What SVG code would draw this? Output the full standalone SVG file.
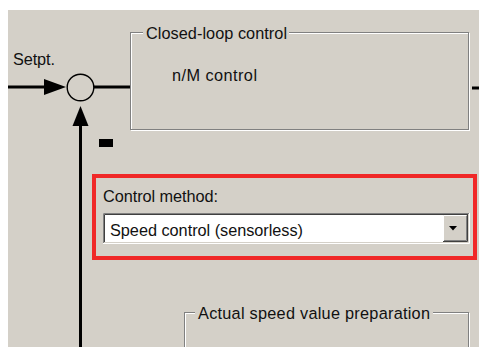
<svg xmlns="http://www.w3.org/2000/svg" width="479" height="347" viewBox="0 0 479 347">
<style>
text{font-family:"Liberation Sans",Arial,sans-serif;font-size:16.3px;fill:#111}
.gd{fill:none;stroke:#808080;stroke-width:1}
.gl{fill:none;stroke:#ffffff;stroke-width:1}
.bg{fill:#d4d0c8}
.wire{stroke:#000;stroke-width:3;fill:none}
.head{fill:#000}
</style>
<rect width="479" height="347" fill="#ffffff"/>
<rect x="8" y="10" width="471" height="337" class="bg"/>

<g id="connectors">
  <line class="wire" x1="8" y1="87" x2="46" y2="87"/>
  <polygon class="head" points="44,79 66,87 44,95"/>
  <line class="wire" x1="94" y1="87" x2="131" y2="87"/>
  <line class="wire" x1="472" y1="88" x2="479" y2="88"/>
  <line class="wire" x1="80.5" y1="124" x2="80.5" y2="347"/>
  <polygon class="head" points="72.5,126 80.5,106 88.5,126"/>
</g>

<g id="setpoint">
  <text x="13" y="65" textLength="42">Setpt.</text>
</g>

<g id="summing-junction">
  <circle cx="80.5" cy="87.5" r="13.3" fill="none" stroke="#000" stroke-width="1.4"/>
  <rect x="99" y="139" width="14" height="8" fill="#000"/>
</g>

<g id="closed-loop-control">
  <rect class="gl" x="131.5" y="33.5" width="338" height="97"/>
  <rect class="gd" x="130.5" y="32.5" width="338" height="97"/>
  <rect class="bg" x="143" y="26" width="146" height="14"/>
  <text x="146" y="39" textLength="141">Closed-loop control</text>
  <text x="172" y="81" textLength="85">n/M control</text>
</g>

<g id="control-method">
  <rect x="94" y="176" width="381" height="82" fill="none" stroke="#f02828" stroke-width="4"/>
  <text x="103" y="201.5" textLength="115">Control method:</text>
  <rect x="103" y="213" width="366" height="31" fill="#ffffff"/>
  <path d="M103.5,243 V213.5 H469" stroke="#808080" fill="none"/>
  <path d="M104.5,242 V214.5 H468" stroke="#404040" fill="none"/>
  <path d="M103,243.5 H469.5 V213" stroke="#ffffff" fill="none"/>
  <path d="M104,242.5 H468.5 V214" stroke="#d4d0c8" fill="none"/>
  <rect x="443" y="215" width="24" height="27" fill="#d4d0c8"/>
  <path d="M443.5,241 V215.5 H466" stroke="#ffffff" fill="none"/>
  <path d="M443,241.5 H467.5 V215" stroke="#404040" fill="none"/>
  <path d="M444,240.5 H466.5 V216" stroke="#808080" fill="none"/>
  <polygon points="449,226 457,226 453,230.5" fill="#000"/>
  <text x="110" y="235.5" textLength="193">Speed control (sensorless)</text>
</g>

<g id="actual-speed-value-preparation">
  <rect class="gl" x="185.5" y="313.5" width="284" height="60"/>
  <rect class="gd" x="184.5" y="312.5" width="284" height="60"/>
  <rect class="bg" x="195" y="305" width="238" height="14"/>
  <text x="198" y="318.5" textLength="232">Actual speed value preparation</text>
</g>
</svg>
